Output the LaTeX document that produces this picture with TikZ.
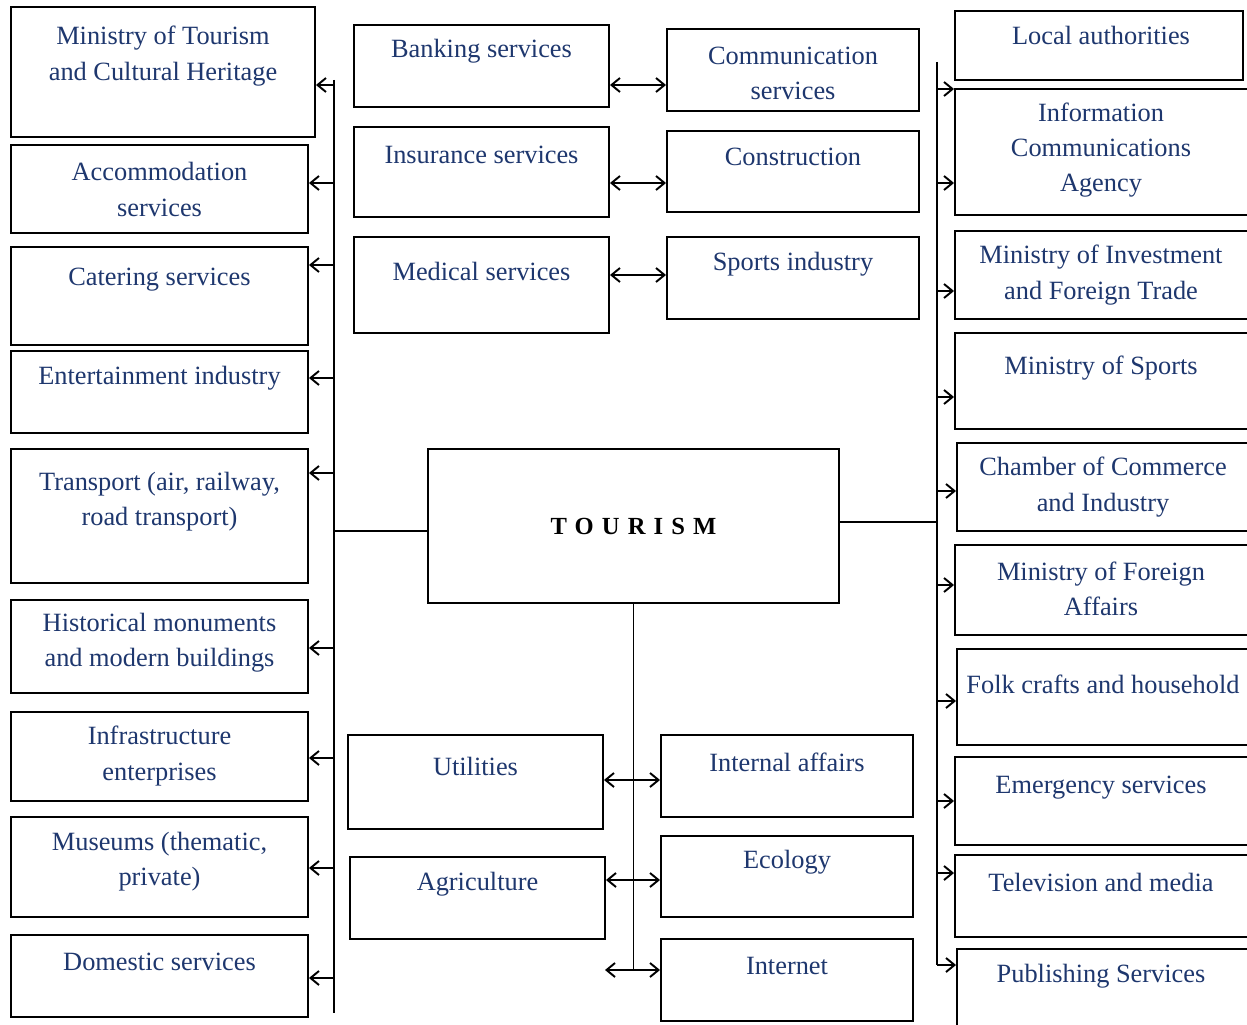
\documentclass[tikz,border=0pt]{standalone}
\usepackage{fontspec}
\setmainfont{Liberation Serif}
\usetikzlibrary{arrows.meta}
\usetikzlibrary{positioning}
\usepackage{xcolor}
\definecolor{navy}{RGB}{30,55,110}

\begin{document}
\begin{tikzpicture}[>={Straight Barb[length=1.7mm,width=2.8mm]},line width=1.1pt]
      \path[use as bounding box,fill=white] (0,0) rectangle (24.94,20.48);

      \begin{scope}[shape=rectangle,minimum width=5.94cm]
          \tikzstyle{every node}=[draw,line width=1.1pt]
          % left column
          \node[minimum width=6.08cm,minimum height=2.60cm] (mintour) at (3.26,19.04) {};
          \node[minimum height=1.76cm] (accom)   at (3.19,16.70) {};
          \node[minimum height=1.96cm] (cater)   at (3.19,14.56) {};
          \node[minimum height=1.64cm] (entert)  at (3.19,12.64) {};
          \node[minimum height=2.68cm] (transp)  at (3.19,10.16) {};
          \node[minimum height=1.86cm] (histmon) at (3.19,7.55)  {};
          \node[minimum height=1.78cm] (infra)   at (3.19,5.35)  {};
          \node[minimum height=2.00cm] (museum)  at (3.19,3.14)  {};
          \node[minimum height=1.64cm] (domest)  at (3.19,0.96)  {};
          % middle, top
          \node[minimum width=5.10cm,minimum height=1.64cm] (bank)   at (9.63,19.16)  {};
          \node[minimum width=5.04cm,minimum height=1.64cm] (comm)   at (15.86,19.08) {};
          \node[minimum width=5.10cm,minimum height=1.80cm] (insur)  at (9.63,17.04)  {};
          \node[minimum width=5.04cm,minimum height=1.62cm] (constr) at (15.86,17.05) {};
          \node[minimum width=5.10cm,minimum height=1.92cm] (medic)  at (9.63,14.78)  {};
          \node[minimum width=5.04cm,minimum height=1.64cm] (sport)  at (15.86,14.92) {};
          % middle, bottom
          \node[minimum width=5.10cm,minimum height=1.88cm] (util)   at (9.51,4.84)  {};
          \node[minimum width=5.04cm,minimum height=1.64cm] (intaff) at (15.74,4.96) {};
          \node[minimum width=5.10cm,minimum height=1.64cm] (agri)   at (9.55,2.52)  {};
          \node[minimum width=5.04cm,minimum height=1.62cm] (ecol)   at (15.74,2.95) {};
          \node[minimum width=5.04cm,minimum height=1.64cm] (inet)   at (15.74,0.88) {};
          % right column
          \node[minimum width=5.76cm,minimum height=1.38cm] (local)    at (21.98,19.57) {};
          \node[minimum width=5.90cm,minimum height=2.52cm] (infoag)   at (22.05,17.44) {};
          \node[minimum width=5.90cm,minimum height=1.76cm] (mininv)   at (22.05,14.98) {};
          \node[minimum width=5.90cm,minimum height=1.92cm] (minsport) at (22.05,12.86) {};
          \node[minimum width=5.86cm,minimum height=1.76cm] (chamber)  at (22.07,10.74) {};
          \node[minimum width=5.90cm,minimum height=1.80cm] (minfor)   at (22.05,8.68)  {};
          \node[minimum width=5.86cm,minimum height=1.92cm] (folk)     at (22.07,6.54)  {};
          \node[minimum width=5.90cm,minimum height=1.76cm] (emerg)    at (22.05,4.46)  {};
          \node[minimum width=5.90cm,minimum height=1.64cm] (tvmedia)  at (22.05,2.56)  {};
          \node[minimum width=5.86cm,minimum height=1.64cm] (publ)     at (22.07,0.68)  {};
          % centre
          \node[minimum width=8.22cm,minimum height=3.08cm,font=\fontsize{14}{17}\selectfont\bfseries\addfontfeature{LetterSpace=33}] (tourism) at (12.67,9.96) {TOURISM};
      \end{scope}

      \begin{scope}[align=center,text=navy,font=\fontsize{15}{20}\selectfont]
          \node (mintour-t)  at (mintour |- 0,19.36)  {Ministry of Tourism\\and Cultural Heritage};
          \node (accom-t)    at (accom |- 0,16.69)    {Accommodation\\services};
          \node (cater-t)    at (cater |- 0,14.88)    {Catering services};
          \node (entert-t)   at (entert |- 0,12.92)   {Entertainment industry};
          \node (transp-t)   at (transp |- 0,10.44)   {Transport (air, railway,\\road transport)};
          \node (histmon-t)  at (histmon |- 0,7.62)   {Historical monuments\\and modern buildings};
          \node (infra-t)    at (infra |- 0,5.36)     {Infrastructure\\enterprises};
          \node (museum-t)   at (museum |- 0,3.25)    {Museums (thematic,\\private)};
          \node (domest-t)   at (domest |- 0,1.24)    {Domestic services};
          \node (bank-t)     at (bank |- 0,19.46)     {Banking services};
          \node (comm-t)     at (comm |- 0,19.01)     {Communication\\services};
          \node (insur-t)    at (insur |- 0,17.38)    {Insurance services};
          \node (constr-t)   at (constr |- 0,17.34)   {Construction};
          \node (medic-t)    at (medic |- 0,15.06)    {Medical services};
          \node (sport-t)    at (sport |- 0,15.20)    {Sports industry};
          \node (util-t)     at (util |- 0,5.16)      {Utilities};
          \node (intaff-t)   at (intaff |- 0,5.24)    {Internal affairs};
          \node (agri-t)     at (agri |- 0,2.80)      {Agriculture};
          \node (ecol-t)     at (ecol |- 0,3.24)      {Ecology};
          \node (inet-t)     at (inet |- 0,1.16)      {Internet};
          \node (local-t)    at (22.02,19.78)         {Local authorities};
          \node (infoag-t)   at (22.02,17.48)         {Information\\Communications\\Agency};
          \node (mininv-t)   at (22.02,14.98)         {Ministry of Investment\\and Foreign Trade};
          \node (minsport-t) at (22.02,13.12)         {Ministry of Sports};
          \node (chamber-t)  at (22.06,10.74)         {Chamber of Commerce\\and Industry};
          \node (minfor-t)   at (22.02,8.70)          {Ministry of Foreign\\Affairs};
          \node (folk-t)     at (22.06,6.80)          {Folk crafts and household};
          \node (emerg-t)    at (22.02,4.72)          {Emergency services};
          \node (tvmedia-t)  at (22.02,2.84)          {Television and media};
          \node (publ-t)     at (22.02,0.96)          {Publishing Services};
      \end{scope}

      \coordinate (lbtop) at (6.68,18.88);
      \coordinate (lbbot) at (6.68,0.22);
      \coordinate (rbtop) at (18.74,19.24);
      \coordinate (netfree) at (12.10,1.08);

      % buses
      \draw (lbtop) -- (lbbot);
      \draw (rbtop) -- (rbtop |- 0,1.18);
      \draw (tourism.west |- 0,9.86) -- (lbtop |- 0,9.86);
      \draw (tourism.east |- 0,10.04) -- (rbtop |- 0,10.04);
      \draw (tourism.south) -- (tourism.south |- netfree);

      % left column
      \draw[->] (lbtop |- 0,18.78) -- (mintour.east |- 0,18.78);
      \draw[->] (lbtop |- 0,16.82) -- (accom.east |- 0,16.82);
      \draw[->] (lbtop |- 0,15.18) -- (cater.east |- 0,15.18);
      \draw[->] (lbtop |- 0,12.92) -- (entert.east |- 0,12.92);
      \draw[->] (lbtop |- 0,11.02) -- (transp.east |- 0,11.02);
      \draw[->] (lbtop |- 0,7.52)  -- (histmon.east |- 0,7.52);
      \draw[->] (lbtop |- 0,5.32)  -- (infra.east |- 0,5.32);
      \draw[->] (lbtop |- 0,3.12)  -- (museum.east |- 0,3.12);
      \draw[->] (lbtop |- 0,0.92)  -- (domest.east |- 0,0.92);

      % right column
      \draw[->] (rbtop |- 0,18.70) -- (local.west |- 0,18.70);
      \draw[->] (rbtop |- 0,16.82) -- (infoag.west |- 0,16.82);
      \draw[->] (rbtop |- 0,14.66) -- (mininv.west |- 0,14.66);
      \draw[->] (rbtop |- 0,12.54) -- (minsport.west |- 0,12.54);
      \draw[->] (rbtop |- 0,10.66) -- (chamber.west |- 0,10.66);
      \draw[->] (rbtop |- 0,8.78)  -- (minfor.west |- 0,8.78);
      \draw[->] (rbtop |- 0,6.46)  -- (folk.west |- 0,6.46);
      \draw[->] (rbtop |- 0,4.46)  -- (emerg.west |- 0,4.46);
      \draw[->] (rbtop |- 0,3.02)  -- (tvmedia.west |- 0,3.02);
      \draw[->] (rbtop |- 0,1.18)  -- (publ.west |- 0,1.18);

      % pairs
      \draw[<->] (bank.east |- 0,18.78)  -- (comm.west |- 0,18.78);
      \draw[<->] (insur.east |- 0,16.82) -- (constr.west |- 0,16.82);
      \draw[<->] (medic.east |- 0,14.98) -- (sport.west |- 0,14.98);
      \draw[<->] (util.east |- 0,4.88)   -- (intaff.west |- 0,4.88);
      \draw[<->] (agri.east |- 0,2.88)   -- (ecol.west |- 0,2.88);
      \draw[<->] (netfree)               -- (inet.west |- netfree);
\end{tikzpicture}
\end{document}
